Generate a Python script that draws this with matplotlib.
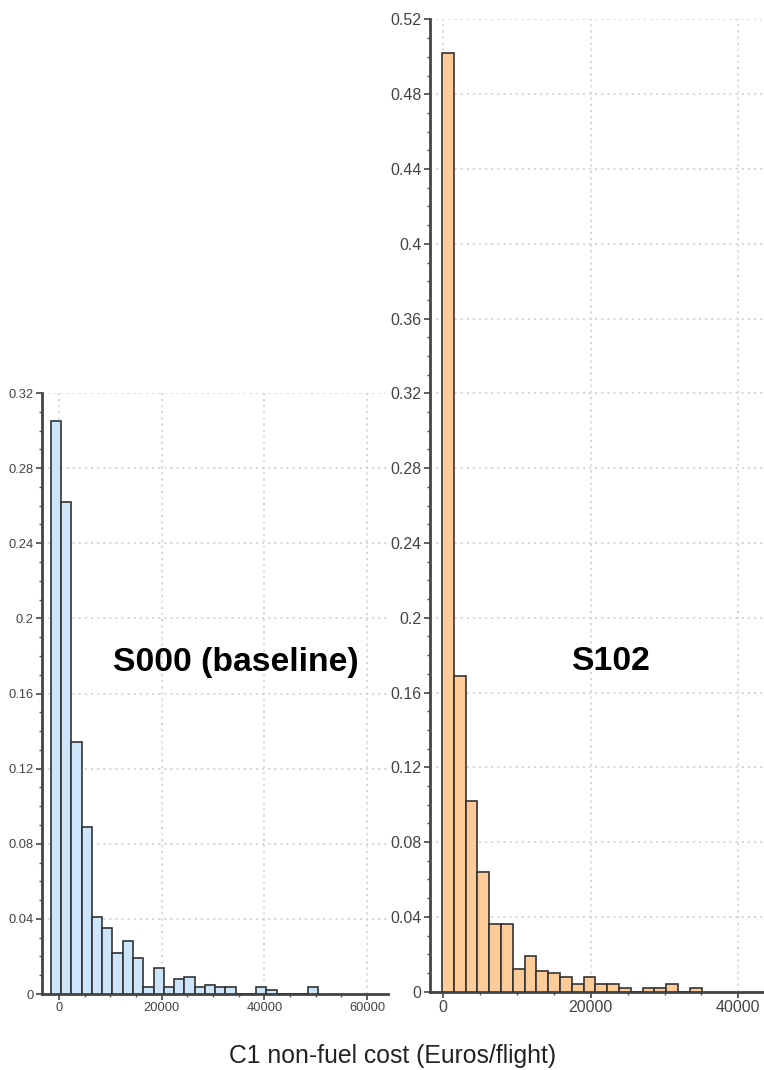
import numpy as np
import matplotlib
matplotlib.use('Agg')
import matplotlib.pyplot as plt
from matplotlib.ticker import MultipleLocator, FuncFormatter

plt.rcParams['font.family'] = ['Liberation Sans', 'DejaVu Sans']

# Dados (proporção de voos por classe de custo)
s000_bin_start = -1600
s000_bin_width = 2000
s000_freq = [0.305, 0.262, 0.134, 0.089, 0.041, 0.035, 0.022, 0.028, 0.019, 0.004,
             0.014, 0.004, 0.008, 0.009, 0.004, 0.005, 0.004, 0.004, 0.0, 0.0,
             0.004, 0.002, 0.0, 0.0, 0.0, 0.004]

s102_bin_start = -180
s102_bin_width = 1600
s102_freq = [0.502, 0.169, 0.102, 0.064, 0.036, 0.036, 0.012, 0.019, 0.011, 0.010,
             0.008, 0.004, 0.008, 0.004, 0.004, 0.002, 0.0, 0.002, 0.002, 0.004,
             0.0, 0.002]

s000_label = 'S000 (baseline)'
s102_label = 'S102'
x_label = 'C1 non-fuel cost (Euros/flight)'

fig = plt.figure(figsize=(7.64, 10.70), dpi=100)
ax1 = fig.add_axes([0.0546, 0.0710, 0.4533, 0.5617])
ax2 = fig.add_axes([0.5628, 0.0732, 0.4372, 0.9086])


def desenha_hist(ax, start, width, freq, cor, xlim, ylim, fs):
    edges = start + width * np.arange(len(freq))
    ax.bar(edges, freq, width=width, align='edge', color=cor,
           edgecolor='#333333', linewidth=1.2, zorder=3)
    ax.set_xlim(*xlim)
    ax.set_ylim(*ylim)
    ax.yaxis.set_major_locator(MultipleLocator(0.04))
    ax.yaxis.set_minor_locator(MultipleLocator(0.01))
    ax.xaxis.set_major_locator(MultipleLocator(20000))
    ax.xaxis.set_minor_locator(MultipleLocator(5000))
    ax.yaxis.set_major_formatter(FuncFormatter(
        lambda v, p: '0' if abs(v) < 1e-9 else ('%.2f' % v).rstrip('0')))
    ax.xaxis.set_major_formatter(FuncFormatter(lambda v, p: '%d' % v))
    ax.grid(True, color='#d0d0d0', linestyle=(0, (1.5, 2.5)), linewidth=1.1, zorder=0)
    for s in ['top', 'right']:
        ax.spines[s].set_visible(False)
    for s in ['left', 'bottom']:
        ax.spines[s].set_color('#444444')
        ax.spines[s].set_linewidth(2.0)
    ax.tick_params(which='major', direction='out', length=4, width=1.2,
                   color='#444444', labelsize=fs, labelcolor='#444444', pad=2)
    ax.tick_params(which='minor', direction='out', length=2, width=1.0, color='#555555')
    ax.set_axisbelow(True)


desenha_hist(ax1, s000_bin_start, s000_bin_width, s000_freq, '#cce5fb',
             (-3370, 64070), (0, 0.32), 9.3)
desenha_hist(ax2, s102_bin_start, s102_bin_width, s102_freq, '#ffcc99',
             (-1800, 43485), (0, 0.52), 11.5)

# Rótulos
fig.text(0.3082, 0.3804, s000_label, ha='center', va='center',
         fontsize=24.3, fontweight='bold', color='black')
fig.text(0.7997, 0.3816, s102_label, ha='center', va='center',
         fontsize=24.3, fontweight='bold', color='black')
fig.text(0.5144, 0.0131, x_label, ha='center', va='center',
         fontsize=17.8, color='#222222')

plt.savefig('out.png', dpi=100)
plt.close()
